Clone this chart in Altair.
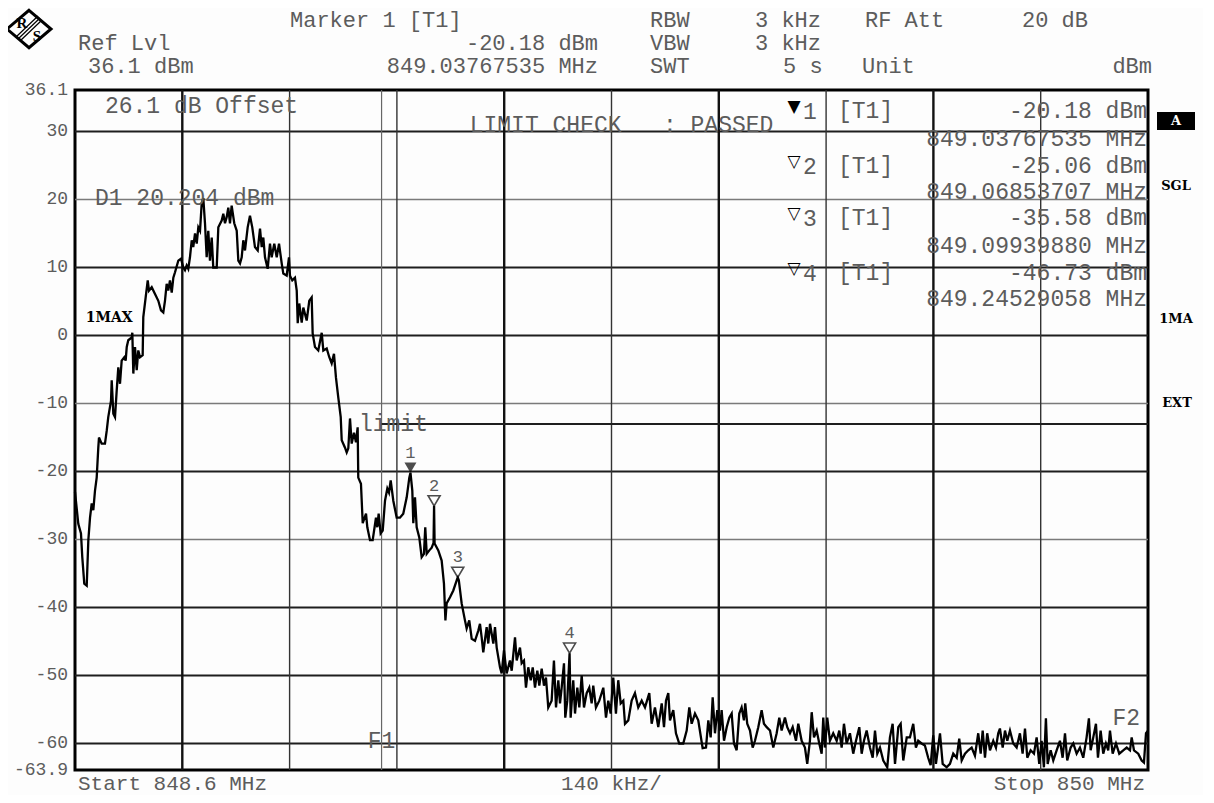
import altair as alt
import pandas as pd

# ---------------- data ----------------
START_MHZ = 848.6
STOP_MHZ = 850.0
REF_LVL = 36.1
BOTTOM_LVL = -63.9
LIMIT_DBM = -13.0
F1_MHZ = 849.0

y_ticks = [36.1, 30, 20, 10, 0, -10, -20, -30, -40, -50, -60, -63.9]
y_tick_labels = ["36.1", "30", "20", "10", "0", "-10", "-20", "-30", "-40", "-50", "-60", "-63.9"]
grid_h_major = [30, 10, 0, -20, -40, -50, -60]
grid_h_minor = [20, -10, -30]
grid_v_major = [848.74, 849.16, 849.44, 849.72]
grid_v_minor = [848.88, 849.02, 849.30, 849.58, 849.86]

# trace: (offset from start in kHz, level in dBm)
trace_points = [
    (0, -23.0), (4.3, -27.7), (7.8, -29.1), (9.5, -32.6), (12.1, -36.5), (15.3, -36.8), (17.4, -30.1),
    (19.6, -26.8), (21.8, -24.7), (23.9, -25.7), (26.1, -22.8), (28.3, -20.9), (30.4, -16.5), (31.3, -15.0),
    (34.8, -15.9), (39.1, -15.9), (41.4, -14.0), (43.4, -12.0), (47.0, -9.6), (47.9, -6.6), (50.0, -11.5),
    (52.2, -12.0), (54.4, -8.1), (56.5, -4.7), (58.7, -7.1), (60.9, -3.7), (64.3, -3.2), (66.1, -3.7),
    (67.5, -1.7), (69.5, -0.7), (74.0, -0.3), (74.8, 0.4), (76.1, -5.6), (78.3, -1.7), (80.5, -5.1),
    (82.6, -2.2), (84.8, -3.2), (88.3, -2.9), (89.1, 2.7), (92.2, 5.6), (94.9, 8.1), (96.5, 6.6),
    (100.1, 7.1), (104.4, 6.1), (108.7, 5.1), (112.2, 3.7), (115.2, 3.4), (117.4, 5.1), (119.6, 7.6),
    (121.7, 6.6), (123.9, 8.1), (126.2, 6.3), (128.3, 8.5), (130.5, 9.3), (134.8, 11.0), (138.3, 11.3),
    (141.3, 10.0), (143.5, 9.6), (145.7, 10.3), (147.8, 9.8), (150.0, 11.5), (152.3, 14.0), (154.3, 13.0),
    (156.6, 15.0), (158.8, 13.5), (160.9, 15.9), (163.1, 15.4), (165.3, 19.4), (167.4, 20.2), (169.6, 16.5),
    (171.8, 11.5), (173.9, 15.4), (176.1, 11.0), (178.4, 14.4), (180.4, 10.0), (182.7, 10.0), (184.9, 10.0),
    (187.0, 15.9), (191.4, 16.9), (193.5, 17.9), (195.7, 16.5), (197.9, 17.4), (200.0, 18.8), (202.2, 16.5),
    (204.4, 19.1), (207.8, 16.5), (211.0, 15.4), (213.1, 11.0), (215.3, 10.6), (217.5, 11.5), (219.6, 14.0),
    (221.8, 12.5), (225.3, 15.9), (228.3, 17.6), (231.3, 15.9), (234.8, 13.0), (238.4, 12.5), (241.4, 15.7),
    (243.6, 13.0), (245.7, 14.4), (247.9, 11.5), (251.4, 9.8), (254.4, 13.5), (256.6, 11.5), (260.0, 13.5),
    (263.2, 11.5), (266.2, 13.5), (269.7, 10.6), (271.8, 9.1), (276.2, 8.8), (279.2, 11.5), (280.5, 8.8),
    (283.5, 8.1), (287.0, 8.5), (289.3, 6.6), (290.6, 1.8), (292.6, 4.7), (295.8, 1.9), (297.9, 4.1),
    (302.3, 2.2), (305.7, 5.1), (308.8, 5.6), (310.1, 0.3), (313.1, -1.7), (317.4, -2.2), (321.9, 0.4),
    (324.0, -2.2), (328.4, -1.9), (331.8, -3.2), (334.9, -4.1), (337.9, -2.7), (340.5, -6.2), (343.5, -9.1),
    (346.7, -12.0), (348.0, -15.4), (352.3, -16.5), (354.5, -17.2), (356.6, -16.6), (358.8, -12.2),
    (361.0, -15.9), (364.0, -14.3), (366.6, -15.7), (368.8, -13.5), (369.6, -20.9), (373.1, -21.8),
    (375.4, -27.6), (379.7, -26.2), (381.4, -28.2), (384.9, -30.1), (388.4, -30.1), (392.7, -26.8),
    (394.4, -28.2), (396.2, -26.2), (398.8, -29.1), (401.5, -28.7), (404.5, -24.3), (407.5, -22.5),
    (409.7, -23.1), (411.9, -21.3), (415.3, -24.3), (419.7, -26.8), (424.0, -26.8), (428.3, -26.2),
    (432.8, -23.8), (436.2, -20.9), (437.7, -20.18), (440.1, -22.8), (441.4, -27.6), (443.6, -23.8),
    (445.8, -28.2), (449.2, -29.7), (452.3, -32.6), (455.3, -32.1), (457.0, -28.2), (458.9, -32.1),
    (462.3, -31.6), (465.4, -31.2), (467.8, -30.5), (468.5, -25.06), (469.2, -30.6), (474.0, -31.6),
    (478.4, -33.1), (481.4, -36.5), (483.3, -41.9), (484.9, -39.4), (489.3, -38.5), (493.6, -37.5),
    (498.0, -36.0), (499.4, -35.58), (500.8, -36.0), (504.5, -39.4), (508.8, -41.9), (511.0, -43.1),
    (514.4, -41.9), (517.6, -44.6), (521.9, -44.9), (526.2, -43.4), (528.4, -42.4), (530.6, -44.4),
    (532.7, -46.6), (537.1, -42.9), (539.2, -45.3), (541.5, -42.4), (545.8, -45.3), (548.0, -42.9),
    (550.2, -45.9), (554.5, -48.8), (556.7, -49.7), (559.7, -46.3), (563.2, -49.7), (567.5, -47.8),
    (569.8, -49.3), (574.1, -44.4), (576.3, -47.8), (580.6, -45.9), (582.8, -48.2), (585.8, -47.8),
    (588.4, -51.8), (591.4, -48.8), (594.6, -50.7), (597.2, -48.8), (600.2, -51.8), (603.2, -49.3),
    (605.8, -51.5), (608.9, -49.0), (611.9, -51.5), (614.5, -50.3), (617.5, -54.7), (621.9, -53.7),
    (624.9, -47.8), (627.6, -54.7), (630.6, -50.7), (632.8, -54.1), (635.0, -51.8), (638.0, -48.2),
    (639.7, -56.2), (642.3, -53.7), (645.3, -46.73), (646.7, -56.2), (650.1, -50.7), (652.4, -55.6),
    (655.4, -51.8), (658.0, -54.7), (661.1, -50.0), (664.1, -54.7), (667.6, -52.6), (671.0, -51.8),
    (674.1, -54.1), (676.2, -51.5), (679.7, -54.7), (684.1, -53.7), (689.3, -51.8), (692.8, -56.2),
    (695.8, -53.7), (698.9, -55.6), (702.3, -50.3), (705.8, -55.6), (708.8, -50.7), (712.0, -54.1),
    (715.4, -53.7), (717.6, -57.1), (721.9, -56.6), (726.3, -53.7), (730.6, -52.6), (734.9, -54.7),
    (739.4, -53.7), (743.7, -54.7), (749.3, -52.6), (752.4, -57.1), (756.7, -54.7), (761.0, -57.6),
    (765.5, -54.1), (768.5, -57.6), (771.1, -53.7), (774.1, -52.6), (776.3, -56.6), (780.6, -55.1),
    (784.1, -58.5), (788.4, -60.0), (793.6, -60.0), (798.1, -58.1), (801.5, -54.7), (804.6, -57.1),
    (808.9, -55.6), (813.2, -56.6), (818.9, -60.7), (823.3, -60.6), (826.3, -56.6), (829.4, -59.1),
    (832.0, -53.2), (835.0, -58.5), (838.0, -55.1), (841.5, -58.1), (843.7, -55.1), (846.8, -59.6),
    (850.3, -57.6), (853.7, -56.2), (856.8, -55.6), (859.8, -60.0), (863.3, -61.0), (866.7, -55.6),
    (869.8, -54.7), (872.8, -56.6), (874.5, -54.1), (877.1, -57.1), (880.7, -58.1), (884.2, -60.6),
    (887.2, -59.6), (891.5, -57.6), (895.9, -55.1), (898.9, -57.1), (902.5, -57.6), (906.8, -58.1),
    (911.1, -60.6), (915.5, -58.5), (918.9, -56.2), (922.0, -58.1), (926.3, -56.2), (929.3, -57.6),
    (932.9, -58.5), (936.4, -57.6), (940.7, -59.6), (943.7, -57.1), (948.1, -59.6), (952.4, -60.6),
    (955.4, -63.0), (958.9, -59.6), (961.2, -55.4), (964.2, -59.1), (967.7, -58.1), (971.1, -60.0),
    (974.2, -61.5), (976.3, -56.2), (978.5, -60.6), (981.5, -56.2), (985.0, -59.6), (989.3, -58.5),
    (993.8, -59.6), (997.2, -58.1), (1000.3, -60.6), (1003.3, -57.1), (1006.8, -60.0), (1011.1, -58.5),
    (1015.4, -61.5), (1019.0, -59.6), (1023.3, -57.6), (1026.4, -61.5), (1029.4, -59.6), (1032.9, -58.1),
    (1037.2, -60.6), (1040.8, -62.1), (1043.8, -58.1), (1046.8, -61.5), (1050.3, -60.6), (1054.6, -62.5),
    (1059.8, -63.5), (1063.3, -59.1), (1066.8, -57.1), (1069.9, -63.0), (1074.2, -57.6), (1077.3, -57.1),
    (1080.7, -62.5), (1085.2, -59.1), (1089.4, -59.1), (1093.7, -57.1), (1097.2, -60.6), (1100.2, -59.6),
    (1104.6, -60.0), (1108.9, -60.3), (1113.2, -62.1), (1116.4, -63.2), (1119.8, -58.8), (1123.3, -63.0),
    (1128.6, -58.5), (1132.1, -63.0), (1137.3, -63.5), (1141.6, -63.0), (1145.9, -61.5), (1150.4, -62.1),
    (1153.7, -59.3), (1156.9, -62.5), (1161.2, -61.5), (1165.5, -61.0), (1169.9, -60.6), (1174.2, -61.8),
    (1178.5, -58.5), (1181.7, -61.5), (1184.3, -58.1), (1187.3, -62.1), (1190.2, -58.5), (1193.8, -61.0),
    (1198.1, -59.6), (1201.6, -60.6), (1204.6, -58.5), (1206.8, -57.8), (1210.4, -60.6), (1213.4, -58.1),
    (1216.4, -59.6), (1219.9, -58.1), (1224.2, -60.0), (1228.6, -60.6), (1232.9, -58.5), (1236.4, -61.5),
    (1239.5, -57.8), (1242.5, -62.1), (1246.9, -61.0), (1251.2, -61.5), (1254.7, -59.1), (1258.1, -63.0),
    (1261.2, -59.6), (1264.2, -63.5), (1266.8, -56.3), (1269.1, -63.0), (1273.0, -61.0), (1276.4, -62.5),
    (1280.8, -61.0), (1285.1, -59.6), (1288.6, -62.1), (1291.7, -58.5), (1294.6, -62.5), (1299.1, -60.6),
    (1302.5, -60.0), (1306.9, -61.5), (1311.2, -60.6), (1315.5, -62.1), (1319.9, -59.1), (1322.9, -56.3),
    (1325.2, -61.0), (1328.6, -59.1), (1332.1, -57.1), (1334.7, -62.1), (1338.2, -58.1), (1341.6, -61.5),
    (1345.1, -60.0), (1348.1, -61.0), (1350.4, -58.1), (1353.9, -61.5), (1358.2, -60.0), (1362.5, -61.5),
    (1367.7, -61.0), (1372.2, -60.6), (1376.5, -61.0), (1378.7, -59.1), (1381.7, -61.0), (1387.3, -61.5),
    (1391.7, -62.5), (1394.7, -62.8), (1397.4, -58.5), (1400.0, -58.1),
]

marker_ids = ["1", "2", "3", "4"]
marker_freq = [849.03767535, 849.06853707, 849.09939880, 849.24529058]
marker_level = [-20.18, -25.06, -35.58, -46.73]

table_glyph = ["\u25bc", "\u25bd", "\u25bd", "\u25bd"]
table_trace = ["[T1]", "[T1]", "[T1]", "[T1]"]
table_level_text = ["-20.18 dBm", "-25.06 dBm", "-35.58 dBm", "-46.73 dBm"]
table_freq_text = ["849.03767535 MHz", "849.06853707 MHz", "849.09939880 MHz", "849.24529058 MHz"]

NBSP = "\u00a0"
limit_check_text = "LIMIT CHECK" + NBSP * 3 + ": PASSED"

# ---------------- layout ----------------
W, H = 1073, 680
OX, OY = 75, 90           # plot origin on the page
MONO = "Liberation Mono"
GRAY = "#5c5c5c"
FS = 23
HFS = 22                  # header font size
STATUS_FONT = "DejaVu Serif"

trace_df = pd.DataFrame({
    "f": [START_MHZ + p[0] / 1000.0 for p in trace_points],
    "lvl": [p[1] for p in trace_points],
})
markers_df = pd.DataFrame({"id": marker_ids, "f": marker_freq, "lvl": marker_level})
yticks_df = pd.DataFrame({"f": [START_MHZ] * len(y_ticks), "lvl": y_ticks, "t": y_tick_labels})

xs = alt.Scale(domain=[START_MHZ, STOP_MHZ], nice=False, zero=False)
ys = alt.Scale(domain=[BOTTOM_LVL, REF_LVL], nice=False, zero=False)


def X(field="f"):
    return alt.X(f"{field}:Q", scale=xs, axis=None)


def Y(field="lvl"):
    return alt.Y(f"{field}:Q", scale=ys, axis=None)


def ptxt(s, x, y, align="left", size=FS, bold=False, color=GRAY, font=MONO):
    """Static text placed on the page (absolute page pixel position)."""
    return alt.Chart(alt.Data(values=[{"t": s}])).mark_text(
        align=align, baseline="middle", fontSize=size, font=font,
        fontWeight="bold" if bold else "normal", color=color,
    ).encode(x=alt.value(x - OX), y=alt.value(y - OY), text="t:N")


def dtxt(s, f, lvl, align="left", size=FS, bold=False, color=GRAY, dx=0, dy=0, font=MONO):
    """Annotation text placed at data coordinates."""
    return alt.Chart(alt.Data(values=[{"t": s, "f": f, "lvl": lvl}])).mark_text(
        align=align, baseline="middle", fontSize=size, font=font,
        fontWeight="bold" if bold else "normal", color=color, dx=dx, dy=dy,
    ).encode(x=X(), y=Y(), text="t:N")


layers = []

# grid
layers.append(alt.Chart(pd.DataFrame({"lvl": grid_h_minor})).mark_rule(color="#7a7a7a", strokeWidth=1.3)
              .encode(y=Y()))
layers.append(alt.Chart(pd.DataFrame({"lvl": grid_h_major})).mark_rule(color="#1e1e1e", strokeWidth=2)
              .encode(y=Y()))
layers.append(alt.Chart(pd.DataFrame({"f": grid_v_minor})).mark_rule(color="#333333", strokeWidth=1.4)
              .encode(x=X()))
layers.append(alt.Chart(pd.DataFrame({"f": grid_v_major})).mark_rule(color="#111111", strokeWidth=2.4)
              .encode(x=X()))
# F1 line
layers.append(alt.Chart(pd.DataFrame({"f": [F1_MHZ]})).mark_rule(color="#666666", strokeWidth=1.2)
              .encode(x=X()))
# limit line
layers.append(alt.Chart(pd.DataFrame({"f": [F1_MHZ], "f2": [STOP_MHZ], "lvl": [LIMIT_DBM]}))
              .mark_rule(color="#1e1e1e", strokeWidth=2)
              .encode(x=X(), x2="f2:Q", y=Y()))

# trace
layers.append(alt.Chart(trace_df).mark_line(color="black", strokeWidth=2.3).encode(x=X(), y=Y()))

# y tick labels (level scale)
layers.append(alt.Chart(yticks_df).mark_text(
    align="right", baseline="middle", font=MONO, fontSize=18, color=GRAY, dx=-7, clip=False)
    .encode(x=X(), y=Y(), text="t:N"))

# marker triangles (tip at the marker level)
tri = "M-1,-1.7L1,-1.7L0,0Z"
layers.append(alt.Chart(markers_df.iloc[[0]]).mark_point(
    shape=tri, size=144, filled=True, color="black").encode(x=X(), y=Y()))
layers.append(alt.Chart(markers_df.iloc[1:]).mark_point(
    shape=tri, size=144, filled=True, fill="white", stroke="black", strokeWidth=1.6).encode(x=X(), y=Y()))
layers.append(alt.Chart(markers_df).mark_text(
    font=MONO, fontSize=17, color=GRAY, dy=-20, baseline="middle").encode(x=X(), y=Y(), text="id:N"))

# annotations inside the plot
layers.append(dtxt("26.1 dB Offset", 848.639, 33.8))
layers.append(dtxt("D1 20.204 dBm", 848.626, 20.2))
layers.append(dtxt("1MAX", 848.614, 2.5, size=14, bold=True, color="black", font=STATUS_FONT))
layers.append(dtxt(limit_check_text, 849.115, 30.9))
layers.append(dtxt("limit", 848.9705, LIMIT_DBM))
layers.append(dtxt("F1", F1_MHZ, -59.6, align="center"))
layers.append(dtxt("F2", STOP_MHZ, -56.3, align="right", dx=-8))

# bottom labels
for s, f, al, dx in [("Start 848.6 MHz", START_MHZ, "left", 3), ("140 kHz/", 849.3, "center", 0),
                     ("Stop 850 MHz", STOP_MHZ, "right", -3)]:
    layers.append(alt.Chart(alt.Data(values=[{"t": s, "f": f}])).mark_text(
        align=al, baseline="middle", fontSize=21, font=MONO, color=GRAY, dx=dx)
        .encode(x=X(), y=alt.value(H + 14), text="t:N"))

# header block
R1, R2, R3 = 20, 43, 66
layers += [
    ptxt("Marker 1 [T1]", 290, R1, size=HFS),
    ptxt("Ref Lvl", 78, R2, size=HFS),
    ptxt("-20.18 dBm", 598, R2, align="right", size=HFS),
    ptxt("36.1 dBm", 88, R3, size=HFS),
    ptxt("849.03767535 MHz", 598, R3, align="right", size=HFS),
    ptxt("RBW", 650, R1, size=HFS), ptxt("3 kHz", 755, R1, size=HFS),
    ptxt("RF Att", 865, R1, size=HFS), ptxt("20 dB", 1022, R1, size=HFS),
    ptxt("VBW", 650, R2, size=HFS), ptxt("3 kHz", 755, R2, size=HFS),
    ptxt("SWT", 650, R3, size=HFS), ptxt("5 s", 783, R3, size=HFS), ptxt("Unit", 862, R3, size=HFS),
    ptxt("dBm", 1152, R3, align="right", size=HFS),
]

# marker table
row_level_y = [111, 166, 218, 273]
row_freq_y = [139, 192, 246, 299]
for i in range(4):
    layers.append(ptxt(table_glyph[i], 794, row_level_y[i] - 4, align="center", size=17,
                       color="black", font="DejaVu Sans"))
    layers.append(ptxt(marker_ids[i], 803, row_level_y[i] + 1))
    layers.append(ptxt(table_trace[i], 838, row_level_y[i]))
    layers.append(ptxt(table_level_text[i], 1147, row_level_y[i], align="right"))
    layers.append(ptxt(table_freq_text[i], 1147, row_freq_y[i], align="right"))

# right side status labels
layers.append(alt.Chart(alt.Data(values=[{"a": 1}])).mark_rect(color="black").encode(
    x=alt.value(1157 - OX), x2=alt.value(1195 - OX), y=alt.value(112 - OY), y2=alt.value(130 - OY)))
layers.append(ptxt("A", 1176, 121, align="center", size=13, bold=True, color="white", font=STATUS_FONT))
layers.append(ptxt("SGL", 1176, 186, align="center", size=13, bold=True, color="black", font=STATUS_FONT))
layers.append(ptxt("1MA", 1176, 319, align="center", size=13, bold=True, color="black", font=STATUS_FONT))
layers.append(ptxt("EXT", 1177, 403, align="center", size=13, bold=True, color="black", font=STATUS_FONT))

# R&S logo
diamond = "M0,-0.85L1,0L0,0.85L-1,0Z"
layers.append(alt.Chart(alt.Data(values=[{"a": 1}])).mark_point(
    shape=diamond, size=1936, filled=False, color="black", strokeWidth=3, opacity=1).encode(
    x=alt.value(29 - OX), y=alt.value(29 - OY)))
for off in (-2, 0, 2):
    layers.append(alt.Chart(alt.Data(values=[{"a": 1}])).mark_rule(color="black", strokeWidth=1.2).encode(
        x=alt.value(18 - OX + off), x2=alt.value(40 - OX + off),
        y=alt.value(39 - OY + off), y2=alt.value(18 - OY + off)))
layers.append(ptxt("R", 22, 23, align="center", size=15, bold=True, color="black", font="Liberation Serif"))
layers.append(ptxt("S", 37, 36, align="center", size=15, bold=True, color="black", font="Liberation Serif"))

chart = alt.layer(*layers).properties(
    width=W, height=H,
    autosize=alt.AutoSizeParams(type="none"),
    padding={"left": OX - 8, "top": OY - 8, "right": 55, "bottom": 25},
    background="#fdfdfd",
).configure_view(stroke="black", strokeWidth=3)

chart.save("out.html", embed_options={"renderer": "svg", "actions": False})
